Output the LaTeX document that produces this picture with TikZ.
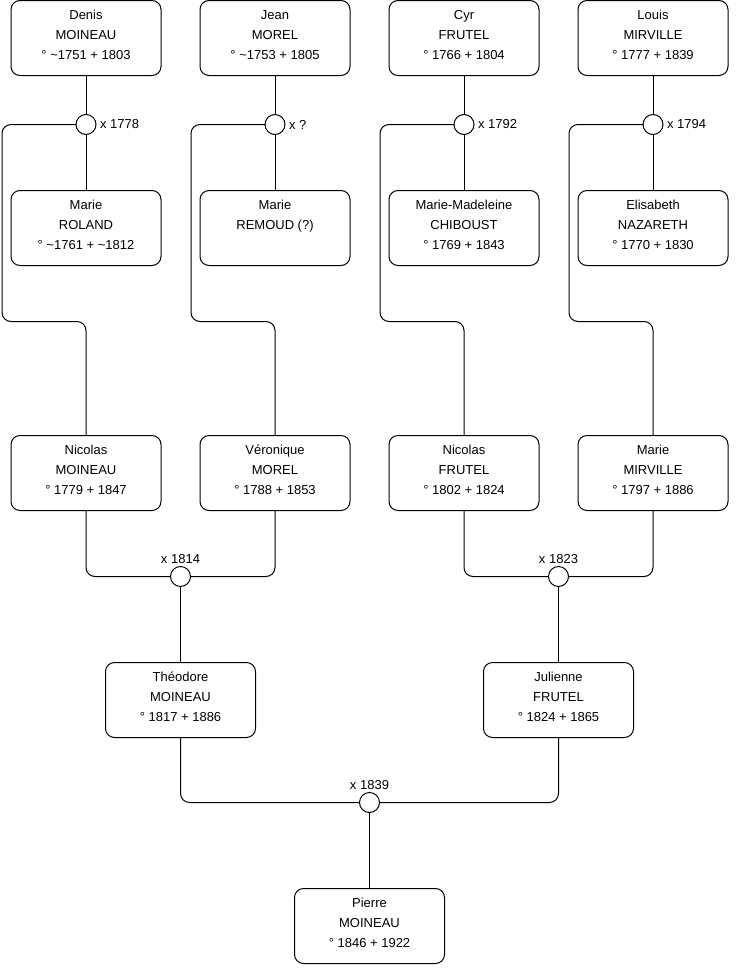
\documentclass[tikz,border=0pt]{standalone}
\usepackage{fontspec}
\setmainfont{Liberation Sans}
\usetikzlibrary{positioning,calc}
\tikzset{
  person/.style={draw, rounded corners=9pt, minimum width=150pt, minimum height=75pt, align=center, outer sep=0pt, font=\fontsize{13}{20}\selectfont, execute at end node=\strut},
  wed/.style={draw, circle, fill=white, minimum size=20pt, inner sep=0pt, outer sep=0pt},
  wedyear/.style={font=\fontsize{13}{15}\selectfont, outer sep=0pt, inner sep=3pt},
  link/.style={line width=1pt, rounded corners=9pt},
}

\begin{document}
\begin{tikzpicture}[x=1pt, y=-1pt, node distance=39pt, line width=1pt]
  \useasboundingbox (0,0) rectangle (740,975);

  \node[person] (denis) at (86,38) {Denis\\MOINEAU\\° \textasciitilde1751 + 1803};
  \node[person, right=of denis] (jean) {Jean\\MOREL\\° \textasciitilde1753 + 1805};
  \node[person, right=of jean] (cyr) {Cyr\\FRUTEL\\° 1766 + 1804};
  \node[person, right=of cyr] (louis) {Louis\\MIRVILLE\\° 1777 + 1839};

  \node[wed, below=39pt of denis] (w1778) {};
  \node[wed, below=39pt of jean] (wjean) {};
  \node[wed, below=39pt of cyr] (w1792) {};
  \node[wed, below=39pt of louis] (w1794) {};
  \node[wedyear, right=1pt of w1778] (l1778) {x 1778};
  \node[wedyear, right=1pt of wjean] (ljean) {x ?};
  \node[wedyear, right=1pt of w1792] (l1792) {x 1792};
  \node[wedyear, right=1pt of w1794] (l1794) {x 1794};

  \node[person, below=115pt of denis] (roland) {Marie\\ROLAND\\° \textasciitilde1761 + \textasciitilde1812};
  \node[person, below=115pt of jean] (remoud) {Marie\\REMOUD (?)\\};
  \node[person, below=115pt of cyr] (chiboust) {Marie-Madeleine\\CHIBOUST\\° 1769 + 1843};
  \node[person, below=115pt of louis] (nazareth) {Elisabeth\\NAZARETH\\° 1770 + 1830};

  \node[person, below=170pt of roland] (nicolasm) {Nicolas\\MOINEAU\\° 1779 + 1847};
  \node[person, below=170pt of remoud] (veronique) {Véronique\\MOREL\\° 1788 + 1853};
  \node[person, below=170pt of chiboust] (nicolasf) {Nicolas\\FRUTEL\\° 1802 + 1824};
  \node[person, below=170pt of nazareth] (mariem) {Marie\\MIRVILLE\\° 1797 + 1886};

  \node[wed] (w1814) at ($(nicolasm.south)!0.5!(veronique.south)+(0,66)$) {};
  \node[wed] (w1823) at ($(nicolasf.south)!0.5!(mariem.south)+(0,66)$) {};
  \node[wedyear, above=0pt of w1814] (l1814) {x 1814};
  \node[wedyear, above=0pt of w1823] (l1823) {x 1823};

  \node[person, below=76pt of w1814] (theodore) {Théodore\\MOINEAU\\° 1817 + 1886};
  \node[person, below=76pt of w1823] (julienne) {Julienne\\FRUTEL\\° 1824 + 1865};

  \node[wed] (w1839) at ($(theodore.south)!0.5!(julienne.south)+(0,65)$) {};
  \node[wedyear, above=0pt of w1839] (l1839) {x 1839};
  \node[person, below=76pt of w1839] (pierre) {Pierre\\MOINEAU\\° 1846 + 1922};

  \draw[link] (denis) -- (w1778) -- (roland);
  \draw[link] (jean) -- (wjean) -- (remoud);
  \draw[link] (cyr) -- (w1792) -- (chiboust);
  \draw[link] (louis) -- (w1794) -- (nazareth);

  \draw[link] (w1778.west) -| ([xshift=-9pt,yshift=-56pt]roland.south west) -| (nicolasm.north);
  \draw[link] (wjean.west) -| ([xshift=-9pt,yshift=-56pt]remoud.south west) -| (veronique.north);
  \draw[link] (w1792.west) -| ([xshift=-9pt,yshift=-56pt]chiboust.south west) -| (nicolasf.north);
  \draw[link] (w1794.west) -| ([xshift=-9pt,yshift=-56pt]nazareth.south west) -| (mariem.north);

  \draw[link] (nicolasm.south) |- (w1814.west);
  \draw[link] (veronique.south) |- (w1814.east);
  \draw[link] (nicolasf.south) |- (w1823.west);
  \draw[link] (mariem.south) |- (w1823.east);
  \draw[link] (w1814) -- (theodore);
  \draw[link] (w1823) -- (julienne);

  \draw[link] (theodore.south) |- (w1839.west);
  \draw[link] (julienne.south) |- (w1839.east);
  \draw[link] (w1839) -- (pierre);
\end{tikzpicture}
\end{document}
